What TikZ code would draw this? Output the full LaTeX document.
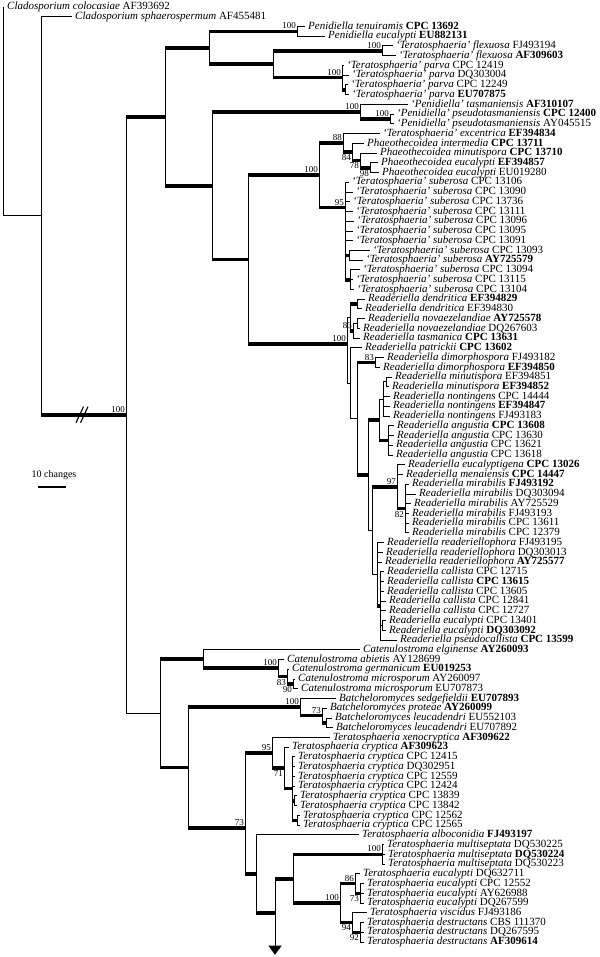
\documentclass[tikz,border=0pt]{standalone}
\usepackage{fontspec}
\setmainfont{Liberation Serif}
\usetikzlibrary{arrows.meta}
\tikzset{
  thn/.style={line width=1pt},
  thk/.style={line width=3.6pt},
  taxon/.style={anchor=west, inner xsep=3.5pt, inner ysep=0pt, text height=7.5pt, text depth=2.2pt, font=\fontsize{11}{11}\selectfont},
  bsa/.style={anchor=south east, inner xsep=1pt, inner ysep=2.2pt, font=\fontsize{9}{9}\selectfont},
  bsb/.style={anchor=north east, inner xsep=1pt, inner ysep=2.2pt, font=\fontsize{9}{9}\selectfont},
}
\newcommand{\leaf}[4]{\node[taxon] (t#1) at (#2,#1) {\textit{#3} #4};}
\newcommand{\branch}[3][thn]{\draw[thn] (#2) -- (#2 |- #3); \draw[#1] (#2 |- #3) -- (#3);}

\begin{document}
\begin{tikzpicture}[x=1pt, y=-9.74pt]
\useasboundingbox (0,0.2813) rectangle (600,98.536);

\leaf{1}{3.5}{Cladosporium colocasiae}{AF393692}
\leaf{2}{71.5}{Cladosporium sphaerospermum}{AF455481}
\leaf{3}{304.5}{Penidiella tenuiramis}{\textbf{CPC 13692}}
\leaf{4}{324.5}{Penidiella eucalypti}{\textbf{EU882131}}
\leaf{5}{392.5}{‘Teratosphaeria’ flexuosa}{FJ493194}
\leaf{6}{395.5}{‘Teratosphaeria’ flexuosa}{\textbf{AF309603}}
\leaf{7}{343.5}{‘Teratosphaeria’ parva}{CPC 12419}
\leaf{8}{348.5}{‘Teratosphaeria’ parva}{DQ303004}
\leaf{9}{347.5}{‘Teratosphaeria’ parva}{CPC 12249}
\leaf{10}{348.5}{‘Teratosphaeria’ parva}{\textbf{EU707875}}
\leaf{11}{407.5}{‘Penidiella’ tasmaniensis}{\textbf{AF310107}}
\leaf{12}{393.5}{‘Penidiella’ pseudotasmaniensis}{\textbf{CPC 12400}}
\leaf{13}{393.5}{‘Penidiella’ pseudotasmaniensis}{AY045515}
\leaf{14}{379.5}{‘Teratosphaeria’ excentrica}{\textbf{EF394834}}
\leaf{15}{363.5}{Phaeothecoidea intermedia}{\textbf{CPC 13711}}
\leaf{16}{376.5}{Phaeothecoidea minutispora}{\textbf{CPC 13710}}
\leaf{17}{377.5}{Phaeothecoidea eucalypti}{\textbf{EF394857}}
\leaf{18}{378.5}{Phaeothecoidea eucalypti}{EU019280}
\leaf{19}{348.5}{‘Teratosphaeria’ suberosa}{CPC 13106}
\leaf{20}{352.5}{‘Teratosphaeria’ suberosa}{CPC 13090}
\leaf{21}{349.5}{‘Teratosphaeria’ suberosa}{CPC 13736}
\leaf{22}{352.5}{‘Teratosphaeria’ suberosa}{CPC 13111}
\leaf{23}{353.5}{‘Teratosphaeria’ suberosa}{CPC 13096}
\leaf{24}{352.5}{‘Teratosphaeria’ suberosa}{CPC 13095}
\leaf{25}{352.5}{‘Teratosphaeria’ suberosa}{CPC 13091}
\leaf{26}{369.5}{‘Teratosphaeria’ suberosa}{CPC 13093}
\leaf{27}{362.5}{‘Teratosphaeria’ suberosa}{\textbf{AY725579}}
\leaf{28}{359.5}{‘Teratosphaeria’ suberosa}{CPC 13094}
\leaf{29}{352.5}{‘Teratosphaeria’ suberosa}{CPC 13115}
\leaf{30}{353.5}{‘Teratosphaeria’ suberosa}{CPC 13104}
\leaf{31}{364.5}{Readeriella dendritica}{\textbf{EF394829}}
\leaf{32}{361.5}{Readeriella dendritica}{EF394830}
\leaf{33}{364.5}{Readeriella novaezelandiae}{\textbf{AY725578}}
\leaf{34}{359.5}{Readeriella novaezelandiae}{DQ267603}
\leaf{35}{359.5}{Readeriella tasmanica}{\textbf{CPC 13631}}
\leaf{36}{361.5}{Readeriella patrickii}{\textbf{CPC 13602}}
\leaf{37}{383.5}{Readeriella dimorphospora}{FJ493182}
\leaf{38}{379.5}{Readeriella dimorphospora}{\textbf{EF394850}}
\leaf{39}{391.5}{Readeriella minutispora}{EF394851}
\leaf{40}{388.5}{Readeriella minutispora}{\textbf{EF394852}}
\leaf{41}{389.5}{Readeriella nontingens}{CPC 14444}
\leaf{42}{389.5}{Readeriella nontingens}{\textbf{EF394847}}
\leaf{43}{389.5}{Readeriella nontingens}{FJ493183}
\leaf{44}{393.5}{Readeriella angustia}{\textbf{CPC 13608}}
\leaf{45}{393.5}{Readeriella angustia}{CPC 13630}
\leaf{46}{392.5}{Readeriella angustia}{CPC 13621}
\leaf{47}{392.5}{Readeriella angustia}{CPC 13618}
\leaf{48}{404.5}{Readeriella eucalyptigena}{\textbf{CPC 13026}}
\leaf{49}{402.5}{Readeriella menaiensis}{\textbf{CPC 14447}}
\leaf{50}{408.5}{Readeriella mirabilis}{\textbf{FJ493192}}
\leaf{51}{415.5}{Readeriella mirabilis}{DQ303094}
\leaf{52}{410.5}{Readeriella mirabilis}{AY725529}
\leaf{53}{408.5}{Readeriella mirabilis}{FJ493193}
\leaf{54}{408.5}{Readeriella mirabilis}{CPC 13611}
\leaf{55}{408.5}{Readeriella mirabilis}{CPC 12379}
\leaf{56}{383.5}{Readeriella readeriellophora}{FJ493195}
\leaf{57}{382.5}{Readeriella readeriellophora}{DQ303013}
\leaf{58}{381.5}{Readeriella readeriellophora}{\textbf{AY725577}}
\leaf{59}{383.5}{Readeriella callista}{CPC 12715}
\leaf{60}{383.5}{Readeriella callista}{\textbf{CPC 13615}}
\leaf{61}{383.5}{Readeriella callista}{CPC 13605}
\leaf{62}{385.5}{Readeriella callista}{CPC 12841}
\leaf{63}{385.5}{Readeriella callista}{CPC 12727}
\leaf{64}{385.5}{Readeriella eucalypti}{CPC 13401}
\leaf{65}{385.5}{Readeriella eucalypti}{\textbf{DQ303092}}
\leaf{66}{396.5}{Readeriella pseudocallista}{\textbf{CPC 13599}}
\leaf{67}{359.5}{Catenulostroma elginense}{\textbf{AY260093}}
\leaf{68}{283.5}{Catenulostroma abietis}{AY128699}
\leaf{69}{288.5}{Catenulostroma germanicum}{\textbf{EU019253}}
\leaf{70}{294.5}{Catenulostroma microsporum}{AY260097}
\leaf{71}{297.5}{Catenulostroma microsporum}{EU707873}
\leaf{72}{335.5}{Batcheloromyces sedgefieldii}{\textbf{EU707893}}
\leaf{73}{326.5}{Batcheloromyces proteae}{\textbf{AY260099}}
\leaf{74}{331.5}{Batcheloromyces leucadendri}{EU552103}
\leaf{75}{332.5}{Batcheloromyces leucadendri}{EU707892}
\leaf{76}{329.5}{Teratosphaeria xenocryptica}{\textbf{AF309622}}
\leaf{77}{288.5}{Teratosphaeria cryptica}{\textbf{AF309623}}
\leaf{78}{294.5}{Teratosphaeria cryptica}{CPC 12415}
\leaf{79}{294.5}{Teratosphaeria cryptica}{DQ302951}
\leaf{80}{294.5}{Teratosphaeria cryptica}{CPC 12559}
\leaf{81}{294.5}{Teratosphaeria cryptica}{CPC 12424}
\leaf{82}{296.5}{Teratosphaeria cryptica}{CPC 13839}
\leaf{83}{296.5}{Teratosphaeria cryptica}{CPC 13842}
\leaf{84}{299.5}{Teratosphaeria cryptica}{CPC 12562}
\leaf{85}{299.5}{Teratosphaeria cryptica}{CPC 12565}
\leaf{86}{358.5}{Teratosphaeria alboconidia}{\textbf{FJ493197}}
\leaf{87}{383.5}{Teratosphaeria multiseptata}{DQ530225}
\leaf{88}{384.5}{Teratosphaeria multiseptata}{\textbf{DQ530224}}
\leaf{89}{384.5}{Teratosphaeria multiseptata}{DQ530223}
\leaf{90}{359.5}{Teratosphaeria eucalypti}{DQ632711}
\leaf{91}{363.5}{Teratosphaeria eucalypti}{CPC 12552}
\leaf{92}{363.5}{Teratosphaeria eucalypti}{AY626988}
\leaf{93}{363.5}{Teratosphaeria eucalypti}{DQ267599}
\leaf{94}{366.5}{Teratosphaeria viscidus}{FJ493186}
\leaf{95}{363.5}{Teratosphaeria destructans}{CBS 111370}
\leaf{96}{363.5}{Teratosphaeria destructans}{DQ267595}
\leaf{97}{363.5}{Teratosphaeria destructans}{\textbf{AF309614}}

\coordinate (R0) at (3,11.72);
\coordinate (N1) at (41,22.45);
\coordinate (IG) at (126,42.89);
\coordinate (TC) at (165,12.27);
\coordinate (A) at (209,5.19);
\coordinate (Pen) at (297,3.5);
\coordinate (FP) at (273,6.875);
\coordinate (Flex) at (382,5.5);
\coordinate (Parva) at (342,8.25);
\coordinate (Pv2) at (345,9.5);
\coordinate (B) at (212,19.35);
\coordinate (P) at (360,11.75);
\coordinate (Ps) at (390,12.5);
\coordinate (C) at (248,26.94);
\coordinate (D) at (319,18.27);
\coordinate (E) at (343,14.94);
\coordinate (Ph) at (352,15.875);
\coordinate (Ph2) at (360,16.75);
\coordinate (Ph3) at (370,17.5);
\coordinate (Sub) at (345,21.6);
\coordinate (Sa) at (349,26.5);
\coordinate (Sb) at (350,29);
\coordinate (Rd) at (347,35.6);
\coordinate (R1) at (350,32.875);
\coordinate (Dd) at (357,31.5);
\coordinate (R1b) at (353,34.25);
\coordinate (Nv) at (357,33.5);
\coordinate (R2) at (350,39.64);
\coordinate (R3) at (357,43.28);
\coordinate (Dm) at (375,37.5);
\coordinate (R4) at (368,49.06);
\coordinate (MNA) at (379,43.375);
\coordinate (MnN) at (383,41.25);
\coordinate (Mn) at (386,39.5);
\coordinate (Ang) at (388,45.5);
\coordinate (R5) at (372,54.75);
\coordinate (M97) at (397,50.25);
\coordinate (M82) at (405,52.5);
\coordinate (RC) at (377,59.25);
\coordinate (Cal) at (380,62.5);
\coordinate (Eu2) at (382,64.5);
\coordinate (LC) at (160,73.51);
\coordinate (CatG) at (203,67.94);
\coordinate (Cat) at (278,68.875);
\coordinate (Cat2) at (287,69.75);
\coordinate (Cat3) at (293,70.5);
\coordinate (LC2) at (188,79.09);
\coordinate (Bt) at (300,72.875);
\coordinate (Bt2) at (322,73.75);
\coordinate (Bt3) at (326,74.5);
\coordinate (T2) at (245,85.3);
\coordinate (Cr95) at (272,77.56);
\coordinate (Cr71) at (284,79.125);
\coordinate (Cr2) at (292,81.25);
\coordinate (Cr3) at (294,82.5);
\coordinate (Cr4) at (297,84.5);
\coordinate (T3) at (256,90);
\coordinate (T4) at (275,94);
\coordinate (T5) at (293,90.5);
\coordinate (Ms) at (382,88);
\coordinate (Eu) at (340,93);
\coordinate (EuA) at (355,91);
\coordinate (EuA2) at (360,92);
\coordinate (EuB) at (352,95);
\coordinate (EuB2) at (360,96);
\coordinate (cont) at (275,98.3);

\branch{R0}{t1} \branch{R0}{N1}
\branch{N1}{t2} \branch[thk]{N1}{IG}
\branch[thk]{IG}{TC} \branch{IG}{LC}
\branch[thk]{TC}{A} \branch[thk]{TC}{B}
\branch[thk]{A}{Pen} \branch[thk]{A}{FP}
\branch{Pen}{t3} \branch{Pen}{t4}
\branch[thk]{FP}{Flex} \branch[thk]{FP}{Parva}
\branch{Flex}{t5} \branch{Flex}{t6}
\branch{Parva}{t7} \branch{Parva}{t8} \branch[thk]{Parva}{Pv2}
\branch{Pv2}{t9} \branch{Pv2}{t10}
\branch[thk]{B}{P} \branch[thk]{B}{C}
\branch{P}{t11} \branch[thk]{P}{Ps}
\branch{Ps}{t12} \branch{Ps}{t13}
\branch[thk]{C}{D} \branch[thk]{C}{Rd}
\branch[thk]{D}{E} \branch[thk]{D}{Sub}
\branch{E}{t14} \branch[thk]{E}{Ph}
\branch{Ph}{t15} \branch[thk]{Ph}{Ph2}
\branch{Ph2}{t16} \branch[thk]{Ph2}{Ph3}
\branch{Ph3}{t17} \branch{Ph3}{t18}
\foreach \i in {19,...,25} {\branch{Sub}{t\i}}
\branch[thk]{Sub}{Sa} \branch[thk]{Sub}{Sb}
\branch{Sa}{t26} \branch{Sa}{t27}
\foreach \i in {28,29,30} {\branch{Sb}{t\i}}
\branch{Rd}{R1} \branch{Rd}{R2}
\branch[thk]{R1}{Dd} \branch[thk]{R1}{R1b}
\branch{Dd}{t31} \branch{Dd}{t32}
\branch{R1b}{Nv} \branch{R1b}{t35}
\branch{Nv}{t33} \branch{Nv}{t34}
\branch{R2}{t36} \branch{R2}{R3}
\branch[thk]{R3}{Dm} \branch[thk]{R3}{R4}
\branch{Dm}{t37} \branch{Dm}{t38}
\branch[thk]{R4}{MNA} \branch{R4}{R5}
\branch{MNA}{MnN} \branch[thk]{MNA}{Ang}
\branch{MnN}{Mn} \foreach \i in {41,42,43} {\branch{MnN}{t\i}}
\branch{Mn}{t39} \branch{Mn}{t40}
\foreach \i in {44,...,47} {\branch{Ang}{t\i}}
\branch[thk]{R5}{M97} \branch{R5}{RC}
\branch{M97}{t48} \branch{M97}{t49} \branch[thk]{M97}{M82}
\foreach \i in {50,...,55} {\branch{M82}{t\i}}
\foreach \i in {56,57,58} {\branch{RC}{t\i}}
\branch[thk]{RC}{Cal}
\foreach \i in {59,...,63} {\branch{Cal}{t\i}}
\branch{Cal}{Eu2} \branch{Cal}{t66}
\branch{Eu2}{t64} \branch{Eu2}{t65}
\branch[thk]{LC}{CatG} \branch[thk]{LC}{LC2}
\branch{CatG}{t67} \branch[thk]{CatG}{Cat}
\branch{Cat}{t68} \branch[thk]{Cat}{Cat2}
\branch{Cat2}{t69} \branch[thk]{Cat2}{Cat3}
\branch{Cat3}{t70} \branch{Cat3}{t71}
\branch[thk]{LC2}{Bt} \branch[thk]{LC2}{T2}
\branch{Bt}{t72} \branch[thk]{Bt}{Bt2}
\branch{Bt2}{t73} \branch[thk]{Bt2}{Bt3}
\branch{Bt3}{t74} \branch{Bt3}{t75}
\branch[thk]{T2}{Cr95} \branch[thk]{T2}{T3}
\branch{Cr95}{t76} \branch[thk]{Cr95}{Cr71}
\branch{Cr71}{t77} \branch[thk]{Cr71}{Cr2}
\foreach \i in {78,...,81} {\branch{Cr2}{t\i}}
\branch[thk]{Cr2}{Cr3} \branch[thk]{Cr2}{Cr4}
\branch{Cr3}{t82} \branch{Cr3}{t83}
\branch{Cr4}{t84} \branch{Cr4}{t85}
\branch{T3}{t86} \branch[thk]{T3}{T4}
\branch[thk]{T4}{T5}
\draw[thn, -{Triangle[length=9pt, width=13pt]}] (T4) -- (cont);
\branch[thk]{T5}{Ms} \branch[thk]{T5}{Eu}
\foreach \i in {87,88,89} {\branch{Ms}{t\i}}
\branch[thk]{Eu}{EuA} \branch[thk]{Eu}{EuB}
\branch{EuA}{t90} \branch[thk]{EuA}{EuA2}
\foreach \i in {91,92,93} {\branch{EuA2}{t\i}}
\branch{EuB}{t94} \branch[thk]{EuB}{EuB2}
\foreach \i in {95,96,97} {\branch{EuB2}{t\i}}

\node[bsa] (bIG) at (IG) {100};
\node[bsa] (bPen) at (Pen) {100};
\node[bsa] (bFlex) at (Flex) {100};
\node[bsa] (bParva) at (Parva) {100};
\node[bsa] (bP) at (P) {100};
\node[bsa] (bPs) at (Ps) {100};
\node[bsa] (bD) at (D) {100};
\node[bsa] (bE) at (E) {88};
\node[bsb] (bPh) at (Ph) {84};
\node[bsb] (bPh2) at (Ph2) {78};
\node[bsb] (bPh3) at (Ph3) {98};
\node[bsa] (bSub) at (Sub) {95};
\node[bsa] (bRd) at (Rd) {100};
\node[bsa] (bR1b) at (R1b) {83};
\node[bsa] (bDm) at (Dm) {83};
\node[bsa] (bM97) at (M97) {97};
\node[bsb] (bM82) at (M82) {82};
\node[bsa] (bCat) at (Cat) {100};
\node[bsb] (bCat2) at (Cat2) {83};
\node[bsb] (bCat3) at (Cat3) {90};
\node[bsa] (bBt) at (Bt) {100};
\node[bsa] (bBt2) at (Bt2) {73};
\node[bsa] (bCr95) at (Cr95) {95};
\node[bsb] (bCr71) at (Cr71) {71};
\node[bsa] (bT2) at (T2) {73};
\node[bsa] (bMs) at (Ms) {100};
\node[bsa] (bEu) at (Eu) {100};
\node[bsa] (bEuA) at (EuA) {86};
\node[bsb] (bEuA2) at (EuA2) {73};
\node[bsb] (bEuB) at (EuB) {94};
\node[bsb] (bEuB2) at (EuB2) {92};

\draw[line width=1.1pt] (76,43.68) -- (83.5,42.03);
\draw[line width=1.1pt] (80.5,43.68) -- (88,42.03);

\node[font=\fontsize{10}{10}\selectfont, inner sep=0pt] (scl) at (54,49.05) {10 changes};
\coordinate (sbl) at (38,50.28);
\coordinate (sbr) at (66,50.28);
\draw[line width=1.2pt] (sbl) -- (sbr);
\end{tikzpicture}
\end{document}
